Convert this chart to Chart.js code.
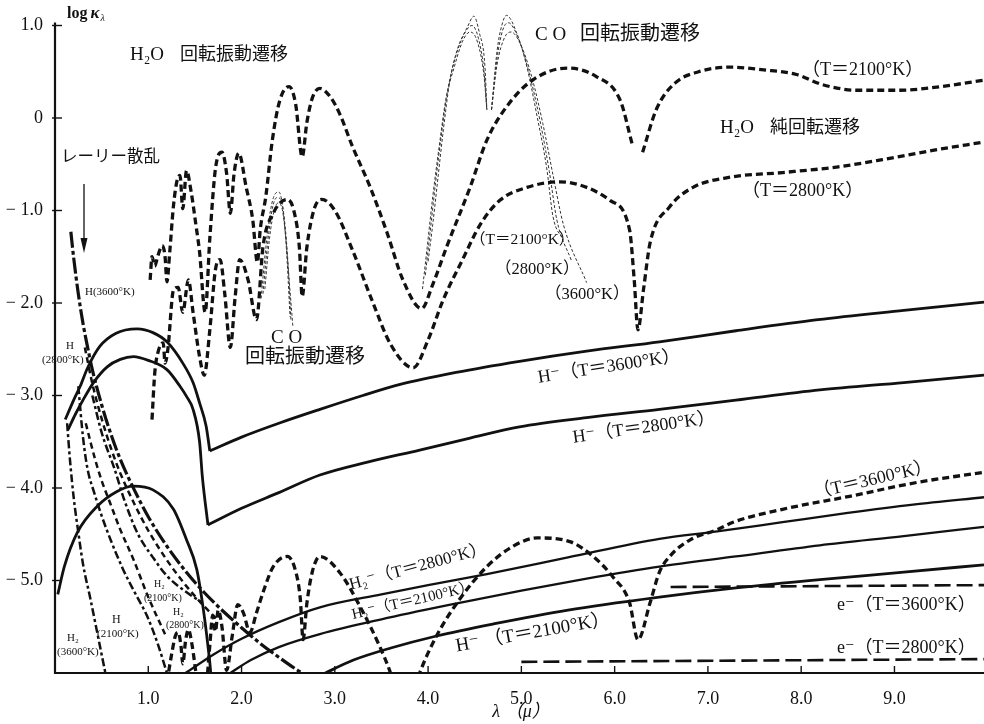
<!DOCTYPE html>
<html>
<head>
<meta charset="utf-8">
<title>log κλ</title>
<script src="https://cdn.jsdelivr.net/npm/chart.js@4.4.1/dist/chart.umd.min.js"></script>
<style>
  html, body { margin: 0; padding: 0; background: #fff; }
  #wrap { width: 984px; height: 724px; }
</style>
</head>
<body>
<div id="wrap"><canvas id="c" width="984" height="724"></canvas></div>
<script>
// ---- axis ticks ----
const xTickValues = [1, 2, 3, 4, 5, 6, 7, 8, 9];
const yTickValues = [1, 0, -1, -2, -3, -4, -5];

// ---- H2O rotation-vibration / pure rotation bands  [λ (μ), log κλ] ----
const h2o2100 = [[1.02,-1.75],[1.04,-1.5],[1.07,-1.6],[1.1,-1.5],[1.15,-1.38],[1.18,-1.5],[1.2,-1.77],[1.23,-1.45],[1.27,-0.95],[1.31,-0.67],[1.34,-0.62],[1.37,-0.98],[1.41,-0.57],[1.46,-0.8],[1.51,-1.15],[1.55,-1.45],[1.61,-2.1],[1.66,-1.3],[1.72,-0.55],[1.79,-0.37],[1.84,-0.6],[1.88,-1.03],[1.92,-0.6],[1.97,-0.38],[2.05,-0.75],[2.12,-1.1],[2.17,-1.56],[2.2,-1.21],[2.26,-0.85],[2.33,-0.24],[2.41,0.19],[2.51,0.34],[2.58,0.15],[2.65,-0.42],[2.7,-0.05],[2.76,0.22],[2.84,0.32],[2.95,0.23],[3.05,0.05],[3.19,-0.31],[3.38,-0.75],[3.56,-1.24],[3.73,-1.75],[3.93,-2.06],[4.05,-1.8],[4.2,-1.39],[4.45,-0.75],[4.63,-0.24],[4.84,0.12],[5.12,0.41],[5.49,0.54],[5.8,0.45],[6.06,0.19],[6.19,-0.29],[6.24,null],[6.3,-0.37],[6.45,0.1],[6.65,0.38],[6.9,0.5],[7.24,0.55],[7.6,0.52],[7.95,0.47],[8.23,0.36],[8.6,0.3],[9.06,0.3],[9.5,0.34],[9.96,0.41]];
const h2o2800 = [[1.04,-3.26],[1.07,-2.75],[1.1,-2.55],[1.16,-2.43],[1.18,-2.65],[1.21,-2.5],[1.27,-1.86],[1.32,-1.83],[1.37,-2.1],[1.43,-1.75],[1.48,-2.1],[1.55,-2.58],[1.6,-2.78],[1.66,-2.29],[1.72,-1.64],[1.77,-1.53],[1.82,-1.9],[1.88,-2.48],[1.93,-1.95],[1.98,-1.53],[2.07,-1.75],[2.16,-2.18],[2.23,-1.39],[2.34,-1.03],[2.49,-0.88],[2.56,-1.0],[2.62,-1.4],[2.65,-1.93],[2.7,-1.4],[2.78,-0.98],[2.86,-0.88],[3.0,-1.0],[3.19,-1.43],[3.41,-2.0],[3.6,-2.45],[3.84,-2.7],[4.0,-2.4],[4.16,-1.97],[4.37,-1.53],[4.56,-1.15],[4.77,-0.89],[5.06,-0.75],[5.41,-0.69],[5.7,-0.75],[5.95,-0.89],[6.16,-1.21],[6.21,-1.75],[6.25,-2.29],[6.31,-1.85],[6.38,-1.35],[6.59,-0.96],[6.84,-0.75],[7.24,-0.64],[7.8,-0.59],[8.38,-0.53],[8.87,-0.45],[9.41,-0.35],[9.96,-0.26]];
const h2o3600 = [[1.2,-6.1],[1.25,-5.8],[1.29,-5.6],[1.32,-5.56],[1.35,-5.7],[1.37,-5.9],[1.4,-5.65],[1.43,-5.53],[1.47,-5.7],[1.52,-6.05],[1.6,-6.3],[1.66,-5.7],[1.69,-5.38],[1.72,-5.55],[1.75,-5.32],[1.79,-5.5],[1.84,-5.97],[1.9,-5.6],[1.96,-5.26],[2.02,-5.35],[2.09,-5.56],[2.16,-5.35],[2.23,-5.13],[2.34,-4.85],[2.49,-4.74],[2.58,-4.9],[2.63,-5.2],[2.66,-5.64],[2.7,-5.25],[2.76,-4.9],[2.84,-4.74],[3.05,-4.91],[3.27,-5.28],[3.48,-5.71],[3.59,-5.98],[3.75,-6.5],[3.91,-6.0],[4.09,-5.6],[4.34,-5.2],[4.63,-4.85],[4.91,-4.63],[5.17,-4.54],[5.52,-4.58],[5.77,-4.74],[5.98,-4.96],[6.16,-5.24],[6.25,-5.64],[6.38,-5.24],[6.48,-4.91],[6.59,-4.74],[6.81,-4.56],[7.1,-4.45],[7.27,-4.37],[7.8,-4.23],[8.52,-4.09],[9.24,-3.94],[9.96,-3.83]];

// ---- CO fundamental (4.3–5.5 μ) and overtone (2.3 μ) ----
const co2100 = [[4.0,-1.55],[4.05,-1.15],[4.1,-0.7],[4.16,-0.16],[4.23,0.38],[4.31,0.73],[4.42,0.98],[4.49,1.1],[4.55,0.92],[4.61,0.55],[4.63,0.09],[4.655,null],[4.68,0.09],[4.74,0.73],[4.79,1.0],[4.84,1.11],[4.95,0.92],[5.06,0.55],[5.17,0.01],[5.27,-0.53],[5.34,-1.07],[5.45,-1.32]];
const co2800 = [[3.97,-1.7],[4.02,-1.25],[4.08,-0.7],[4.14,-0.2],[4.21,0.3],[4.3,0.68],[4.4,0.93],[4.47,1.0],[4.54,0.86],[4.6,0.5],[4.63,0.09],[4.655,null],[4.68,0.09],[4.74,0.65],[4.8,0.95],[4.86,1.03],[4.96,0.88],[5.08,0.5],[5.2,-0.03],[5.3,-0.58],[5.38,-1.1],[5.54,-1.55]];
const co3600 = [[3.94,-1.85],[3.99,-1.4],[4.05,-0.85],[4.12,-0.3],[4.19,0.2],[4.28,0.55],[4.37,0.83],[4.45,0.93],[4.53,0.82],[4.6,0.45],[4.63,0.09],[4.655,null],[4.68,0.09],[4.74,0.58],[4.82,0.87],[4.89,0.93],[4.99,0.8],[5.11,0.45],[5.23,-0.06],[5.34,-0.62],[5.45,-1.15],[5.7,-1.78]];
const coOv2100 = [[2.21,-1.95],[2.26,-1.4],[2.31,-1.0],[2.36,-0.82],[2.4,-0.8],[2.44,-0.95],[2.48,-1.4],[2.52,-2.15]];
const coOv2800 = [[2.23,-1.9],[2.28,-1.35],[2.33,-0.98],[2.38,-0.86],[2.42,-0.88],[2.46,-1.1],[2.5,-1.6],[2.53,-2.2]];
const coOv3600 = [[2.25,-1.85],[2.3,-1.3],[2.35,-1.0],[2.39,-0.92],[2.43,-0.96],[2.47,-1.25],[2.51,-1.75],[2.55,-2.25]];

// ---- H⁻ bound-free arc and free-free branch ----
const hMinus3600Arc = [[0.11,-3.26],[0.2,-3.05],[0.27,-2.9],[0.35,-2.7],[0.48,-2.47],[0.65,-2.33],[0.88,-2.28],[1.05,-2.32],[1.2,-2.42],[1.37,-2.65],[1.48,-2.86],[1.55,-3.08],[1.62,-3.33],[1.66,-3.6]];
const hMinus3600Tail = [[1.66,-3.6],[2.0,-3.45],[2.4,-3.3],[2.84,-3.15],[3.3,-3.0],[3.7,-2.88],[4.3,-2.75],[4.98,-2.63],[5.7,-2.52],[6.48,-2.42],[7.3,-2.3],[8.18,-2.18],[9.1,-2.08],[9.96,-1.99]];
const hMinus2800Arc = [[0.14,-3.37],[0.22,-3.2],[0.3,-3.05],[0.42,-2.85],[0.56,-2.69],[0.7,-2.61],[0.84,-2.58],[1.0,-2.62],[1.2,-2.72],[1.34,-2.9],[1.41,-3.01],[1.48,-3.15],[1.55,-3.5],[1.58,-3.88],[1.64,-4.4]];
const hMinus2800Tail = [[1.64,-4.4],[2.0,-4.22],[2.4,-4.05],[2.84,-3.86],[3.35,-3.72],[3.91,-3.59],[4.45,-3.46],[4.98,-3.34],[5.7,-3.24],[6.48,-3.15],[7.3,-3.05],[8.2,-2.94],[9.1,-2.86],[9.96,-2.78]];
const hMinus2100Arc = [[0.03,-5.15],[0.1,-4.85],[0.24,-4.48],[0.45,-4.2],[0.66,-4.04],[0.84,-3.98],[1.05,-4.02],[1.27,-4.23],[1.41,-4.56],[1.52,-4.88],[1.59,-5.31],[1.64,-5.71],[1.67,-6.0],[1.7,-6.5]];
const hMinus2100Tail = [[2.7,-6.1],[2.9,-6.0],[3.2,-5.86],[3.6,-5.73],[4.09,-5.6],[4.7,-5.47],[5.5,-5.32],[6.48,-5.18],[7.3,-5.08],[8.2,-4.99],[9.1,-4.91],[9.96,-4.83]];

// ---- H₂⁻ free-free ----
const h2Minus2800 = [[1.4,-6.0],[1.7,-5.8],[2.0,-5.63],[2.4,-5.45],[2.84,-5.29],[3.5,-5.15],[4.0,-5.05],[4.63,-4.93],[5.5,-4.75],[6.48,-4.55],[7.1,-4.47],[7.8,-4.37],[8.5,-4.27],[9.2,-4.18],[9.96,-4.1]];
const h2Minus2100 = [[1.88,-6.0],[2.1,-5.86],[2.4,-5.72],[2.84,-5.58],[3.5,-5.42],[4.2,-5.27],[5.0,-5.11],[5.7,-4.98],[6.48,-4.85],[7.3,-4.74],[8.2,-4.62],[9.1,-4.52],[9.96,-4.42]];

// ---- electron scattering ----
const e3600 = [[6.6,-5.07],[9.96,-5.05]];
const e2800 = [[5.0,-5.88],[9.96,-5.85]];

// ---- Rayleigh scattering by H and H₂ ----
const rayH3600 = [[0.17,-1.23],[0.2,-1.51],[0.25,-1.9],[0.3,-2.22],[0.35,-2.48],[0.4,-2.72],[0.5,-3.1],[0.6,-3.42],[0.7,-3.69],[0.85,-4.02],[1.0,-4.31],[1.2,-4.63],[1.4,-4.9],[1.6,-5.13],[1.8,-5.33],[2.0,-5.51],[2.2,-5.68],[2.4,-5.83],[2.6,-5.97],[2.65,-6.0]];
const rayH2800 = [[0.32,-2.48],[0.4,-2.87],[0.5,-3.25],[0.6,-3.57],[0.7,-3.84],[0.85,-4.17],[1.0,-4.46],[1.2,-4.78],[1.4,-5.05],[1.6,-5.28],[1.74,-5.42]];
const rayH2100 = [[0.25,-2.9],[0.3,-3.45],[0.35,-3.8],[0.42,-4.05],[0.5,-4.3],[0.6,-4.57],[0.73,-4.88],[0.85,-5.12],[0.99,-5.39],[1.1,-5.68],[1.2,-6.0]];
const rayH2_3600 = [[0.13,-3.3],[0.16,-3.69],[0.2,-4.1],[0.25,-4.48],[0.3,-4.82],[0.38,-5.2],[0.45,-5.55],[0.54,-6.0]];
const rayH2_2800 = [[0.4,-3.0],[0.5,-3.4],[0.64,-3.8],[0.75,-4.15],[0.89,-4.5],[1.05,-4.75],[1.2,-4.95],[1.4,-5.12],[1.58,-5.24]];
const rayH2_2100 = [[0.33,-3.3],[0.38,-3.5],[0.43,-3.69],[0.5,-3.92],[0.59,-4.16],[0.7,-4.45],[0.84,-4.77],[1.0,-5.18],[1.18,-5.58]];

// ---- drawing ----
const SERIF = '"Liberation Serif","DejaVu Serif","Noto Sans CJK JP",serif';
const INK = '#111';

const pts = arr => arr.map(([x, y]) => ({ x, y }));
const series = (data, style) => Object.assign({
  data: pts(data), borderColor: INK, pointRadius: 0, fill: false,
  cubicInterpolationMode: 'monotone', spanGaps: false
}, style);

const dashedThick = { borderWidth: 3.3, borderDash: [7, 4] };
const thinDotted  = { borderWidth: 1, borderDash: [3, 2], borderColor: '#333' };
const solidThick  = { borderWidth: 2.8 };
const solidMid    = { borderWidth: 2.3 };
const longDash    = { borderWidth: 2.6, borderDash: [16, 6] };
const dashDotA    = { borderWidth: 3.2, borderDash: [16, 3, 4, 3] };
const dashDotB    = { borderWidth: 2.5, borderDash: [8, 3, 3, 3] };
const dashMid     = { borderWidth: 2.5, borderDash: [6, 4] };

const datasets = [
  series(h2o2100, dashedThick), series(h2o2800, dashedThick), series(h2o3600, dashedThick),
  series(co2100, thinDotted), series(co2800, thinDotted), series(co3600, thinDotted),
  series(coOv2100, thinDotted), series(coOv2800, thinDotted), series(coOv3600, thinDotted),
  series(hMinus3600Arc, solidThick), series(hMinus3600Tail, solidThick),
  series(hMinus2800Arc, solidThick), series(hMinus2800Tail, solidThick),
  series(hMinus2100Arc, solidThick), series(hMinus2100Tail, solidThick),
  series(h2Minus2800, solidMid), series(h2Minus2100, solidMid),
  series(e3600, longDash), series(e2800, longDash),
  series(rayH3600, dashDotA), series(rayH2800, dashMid), series(rayH2100, dashDotB),
  series(rayH2_3600, dashDotB), series(rayH2_2800, dashDotB), series(rayH2_2100, dashMid)
];

function txt(ctx, s, x, y, size, o = {}) {
  ctx.save();
  ctx.font = (o.style || '') + ' ' + (o.weight || '') + ' ' + size + 'px ' + SERIF;
  ctx.fillStyle = INK;
  ctx.textBaseline = 'middle';
  ctx.textAlign = o.align || 'left';
  ctx.translate(x, y);
  if (o.rot) ctx.rotate(o.rot * Math.PI / 180);
  ctx.fillText(s, 0, 0);
  ctx.restore();
}

const decor = {
  id: 'decor',
  afterDraw(chart) {
    const { ctx, chartArea: a, scales: { x, y } } = chart;
    ctx.save();
    ctx.strokeStyle = INK;
    // axes
    ctx.lineWidth = 2.2;
    ctx.beginPath();
    ctx.moveTo(a.left, y.getPixelForValue(1) - 3);
    ctx.lineTo(a.left, a.bottom);
    ctx.lineTo(a.right, a.bottom);
    ctx.stroke();
    ctx.lineWidth = 1.4;
    yTickValues.forEach(v => {
      const py = y.getPixelForValue(v);
      ctx.beginPath(); ctx.moveTo(a.left - 3, py); ctx.lineTo(a.left + 7, py); ctx.stroke();
    });
    xTickValues.forEach(v => {
      const px = x.getPixelForValue(v);
      ctx.beginPath(); ctx.moveTo(px, a.bottom); ctx.lineTo(px, a.bottom - 7); ctx.stroke();
    });
    // arrow under the Rayleigh label
    ctx.lineWidth = 1.3;
    ctx.beginPath(); ctx.moveTo(84, 184); ctx.lineTo(84, 240); ctx.stroke();
    ctx.fillStyle = INK;
    ctx.beginPath(); ctx.moveTo(84, 253); ctx.lineTo(80.5, 238); ctx.lineTo(87.5, 238); ctx.closePath(); ctx.fill();
    ctx.restore();

    // axis name
    ctx.save();
    ctx.fillStyle = INK; ctx.textBaseline = 'alphabetic';
    ctx.font = 'bold 16px ' + SERIF; ctx.fillText('log', 67, 18);
    let w = ctx.measureText('log').width;
    ctx.font = 'italic bold 17px ' + SERIF; ctx.fillText('κ', 67 + w + 3, 18);
    let w2 = ctx.measureText('κ').width;
    ctx.font = 'italic 10px ' + SERIF; ctx.fillText('λ', 67 + w + 3 + w2 + 1, 21);
    ctx.restore();

    // band and process labels
    txt(ctx, 'H₂O', 130, 55, 19); txt(ctx, '回転振動遷移', 180, 55, 18);
    txt(ctx, 'C O', 535, 35, 19); txt(ctx, '回転振動遷移', 580, 35, 20);
    txt(ctx, '（T＝2100°K）', 802, 70, 18);
    txt(ctx, 'H₂O', 720, 128, 19); txt(ctx, '純回転遷移', 770, 128, 18);
    txt(ctx, '（T＝2800°K）', 742, 191, 18);
    txt(ctx, 'レーリー散乱', 61, 158, 16.5);
    txt(ctx, 'H(3600°K)', 85, 292, 11);
    txt(ctx, 'H', 66, 346, 11); txt(ctx, '(2800°K)', 42, 360, 11);
    txt(ctx, 'C O', 271, 338, 19); txt(ctx, '回転振動遷移', 245, 358, 20);
    txt(ctx, '（T＝2100°K）', 470, 240, 15.5);
    txt(ctx, '（2800°K）', 495, 270, 16.5);
    txt(ctx, '（3600°K）', 545, 295, 16.5);
    txt(ctx, 'H⁻（T＝3600°K）', 609, 367, 18, { align: 'center', rot: -8.8 });
    txt(ctx, 'H⁻（T＝2800°K）', 644, 428, 18, { align: 'center', rot: -8 });
    txt(ctx, '（T＝3600°K）', 873, 480, 18, { align: 'center', rot: -13 });
    txt(ctx, 'H₂⁻（T＝2800°K）', 418, 567, 17, { align: 'center', rot: -15 });
    txt(ctx, 'H₂⁻（T＝2100°K）', 413, 601, 15, { align: 'center', rot: -13 });
    txt(ctx, 'H⁻ （T＝2100°K）', 533, 633, 19, { align: 'center', rot: -10 });
    txt(ctx, 'e⁻（T＝3600°K）', 837, 605, 18);
    txt(ctx, 'e⁻（T＝2800°K）', 837, 648, 18);
    txt(ctx, 'H₂', 67, 638, 11); txt(ctx, '(3600°K)', 57, 652, 11);
    txt(ctx, 'H', 112, 620, 12); txt(ctx, '(2100°K)', 97, 634, 11);
    txt(ctx, 'H₂', 154, 584, 10); txt(ctx, '(2100°K)', 144, 598, 10);
    txt(ctx, 'H₂', 173, 612, 10); txt(ctx, '(2800°K)', 166, 625, 10);
    txt(ctx, 'λ （μ）', 521, 712, 18, { align: 'center', style: 'italic' });
  }
};

// chart area runs edge to edge: no extra room for the outermost tick labels
const noEdgePad = s => { s.paddingTop = 0; s.paddingBottom = 0; s.paddingLeft = 0; s.paddingRight = 0; };

new Chart(document.getElementById('c'), {
  type: 'line',
  data: { datasets },
  options: {
    responsive: false,
    animation: false,
    devicePixelRatio: 1,
    layout: { padding: 0 },
    plugins: { legend: { display: false }, tooltip: { enabled: false } },
    scales: {
      x: {
        type: 'linear', min: 0, max: 9.96,
        grid: { display: false }, border: { display: false },
        ticks: {
          stepSize: 1, autoSkip: false, maxRotation: 0, padding: 7,
          color: INK, font: { family: SERIF, size: 18 },
          callback: v => xTickValues.includes(v) ? v.toFixed(1) : ''
        },
        afterFit: s => { s.height = 51; noEdgePad(s); }
      },
      y: {
        type: 'linear', min: -6, max: 1.2757,
        grid: { display: false }, border: { display: false },
        ticks: {
          stepSize: 1, autoSkip: false, padding: 4,
          color: INK, font: { family: SERIF, size: 18 },
          callback: v => !yTickValues.includes(v) ? '' : (v === 0 ? '0' : (v < 0 ? '− ' : '') + Math.abs(v).toFixed(1))
        },
        afterFit: s => { s.width = 55; noEdgePad(s); }
      }
    }
  },
  plugins: [decor]
});
</script>
</body>
</html>
